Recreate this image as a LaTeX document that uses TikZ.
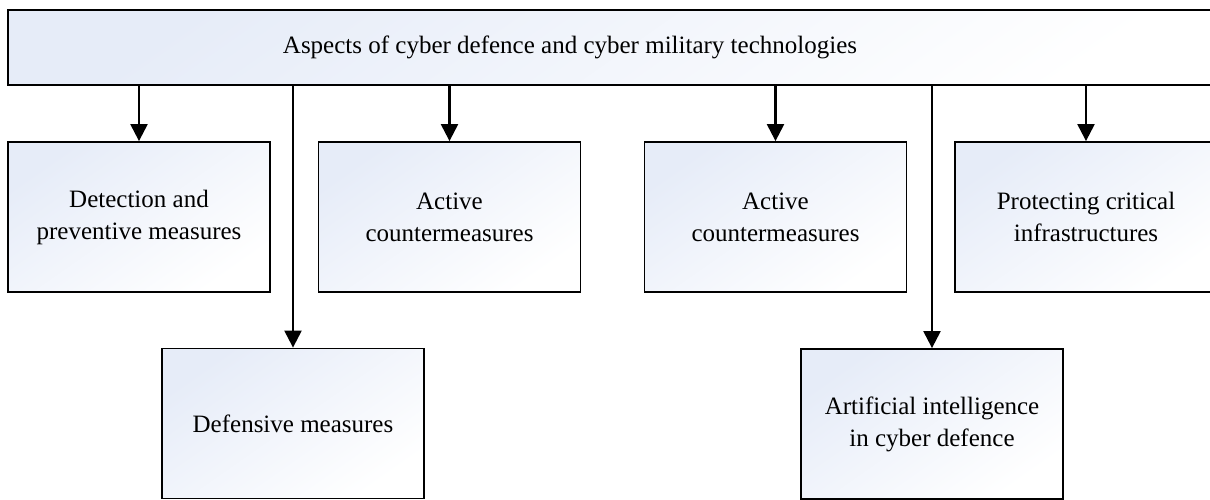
\documentclass[tikz,border=0pt]{standalone}
\usepackage{fontspec}
\setmainfont{Liberation Serif}
\usetikzlibrary{arrows.meta}
\definecolor{boxtint}{RGB}{230,236,248}
\tikzset{
  every node/.style={font=\fontsize{25}{32}\selectfont},
  card/.style={draw=black, line width=1.8pt, rectangle, inner sep=0pt,
    top color=boxtint, bottom color=white, shading angle=35,
    minimum width=262pt, minimum height=150pt, align=center},
  link/.style={line width=2.2pt, -{Triangle[length=17pt,width=17pt]}}
}
\begin{document}
\begin{tikzpicture}[x=1pt,y=-1pt]
  \clip (0,0) rectangle (1210,500);
  % header bar, running off the right edge
  \node[card, minimum width=1240pt, minimum height=75pt] (top) at (628,47.5) {};
  \node (title) at (570,47) {Aspects of cyber defence and cyber military technologies};
  % first row
  \node[card] (detect) at (139,217) {Detection and\\preventive measures};
  \node[card] (act1) at (449.5,217) {Active\\countermeasures};
  \node[card] (act2) at (775.5,217) {Active\\countermeasures};
  \node[card] (protect) at (1086,217) {Protecting critical\\infrastructures};
  % second row
  \node[card] (defense) at (293,423.5) {Defensive measures};
  \node[card] (ai) at (932,424) {Artificial intelligence\\in cyber defence};
  % connectors
  \draw[link] (top.south -| detect.north) -- (detect.north);
  \draw[link] (top.south -| act1.north) -- (act1.north);
  \draw[link] (top.south -| act2.north) -- (act2.north);
  \draw[link] (top.south -| protect.north) -- (protect.north);
  \draw[link] (top.south -| defense.north) -- (defense.north);
  \draw[link] (top.south -| ai.north) -- (ai.north);
\end{tikzpicture}
\end{document}
